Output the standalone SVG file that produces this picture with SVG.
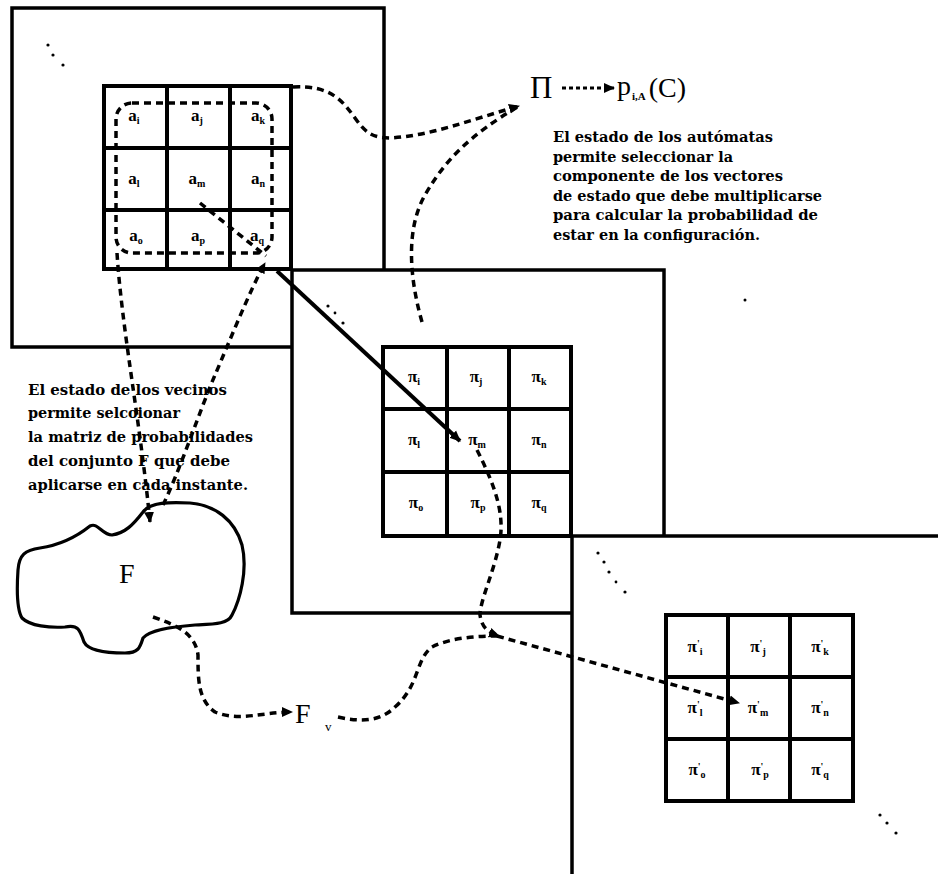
<svg xmlns="http://www.w3.org/2000/svg" width="938" height="874" viewBox="0 0 938 874">
<defs>
<marker id="ah" markerUnits="userSpaceOnUse" markerWidth="12" markerHeight="12" refX="10" refY="5" orient="auto" viewBox="0 0 12 10">
<path d="M0,0 L11,5 L0,10 Z" fill="#000"/>
</marker>
<style>
.frame{fill:#fff;stroke:#000;stroke-width:3.5}
.grid{fill:#fff;stroke:#000;stroke-width:4}
.gl{stroke:#000;stroke-width:4}
.dash{fill:none;stroke:#000;stroke-width:3.5;stroke-dasharray:7 5}
.dash2{fill:none;stroke:#000;stroke-width:3;stroke-dasharray:4 3}
.solid{fill:none;stroke:#000;stroke-width:4}
.t{font-family:"DejaVu Serif","Liberation Serif",serif;font-weight:bold;font-size:14.5px;fill:#000}
.lbl{font-family:"Liberation Serif",serif;font-weight:bold;font-size:17px;fill:#000;text-anchor:middle}
.sub{font-size:10px}
.big{font-family:"Liberation Serif",serif;font-size:28px;fill:#000}
.dot{fill:#000}
</style>
</defs>
<rect width="938" height="874" fill="#fff"/>

<g id="frame1"><rect class="frame" x="12" y="8" width="372" height="339"/></g>
<g id="frame2"><rect class="frame" x="292" y="270" width="372" height="343"/></g>
<g id="frame3"><rect class="frame" x="572" y="536" width="380" height="350"/></g>

<g id="ellipsis">
<circle class="dot" cx="48" cy="45" r="1.6"/><circle class="dot" cx="53" cy="55" r="1.6"/><circle class="dot" cx="63" cy="65" r="1.6"/>
<circle class="dot" cx="328" cy="306" r="1.6"/><circle class="dot" cx="335" cy="313" r="1.4"/><circle class="dot" cx="343" cy="323" r="1.6"/>
<circle class="dot" cx="598" cy="553" r="1.6"/><circle class="dot" cx="604" cy="562" r="1.6"/><circle class="dot" cx="609" cy="572" r="1.6"/><circle class="dot" cx="616" cy="582" r="1.4"/><circle class="dot" cx="625" cy="592" r="1.6"/>
<circle class="dot" cx="880" cy="815" r="1.6"/><circle class="dot" cx="887" cy="823" r="1.6"/><circle class="dot" cx="896" cy="833" r="1.6"/>
<circle class="dot" cx="745" cy="300" r="1.5"/>
</g>

<g id="gridA">
<rect class="grid" x="104" y="86" width="187" height="183"/>
<line class="gl" x1="167" y1="86" x2="167" y2="269"/><line class="gl" x1="230" y1="86" x2="230" y2="269"/>
<line class="gl" x1="104" y1="148" x2="291" y2="148"/><line class="gl" x1="104" y1="210" x2="291" y2="210"/>
<text class="lbl" x="134" y="121">a<tspan class="sub" dy="3">i</tspan></text>
<text class="lbl" x="197" y="121">a<tspan class="sub" dy="3">j</tspan></text>
<text class="lbl" x="258" y="121">a<tspan class="sub" dy="3">k</tspan></text>
<text class="lbl" x="134" y="184">a<tspan class="sub" dy="3">l</tspan></text>
<text class="lbl" x="197" y="184">a<tspan class="sub" dy="3">m</tspan></text>
<text class="lbl" x="258" y="184">a<tspan class="sub" dy="3">n</tspan></text>
<text class="lbl" x="136" y="241">a<tspan class="sub" dy="3">o</tspan></text>
<text class="lbl" x="198" y="241">a<tspan class="sub" dy="3">p</tspan></text>
<text class="lbl" x="257" y="241">a<tspan class="sub" dy="3">q</tspan></text>
</g>

<g id="gridPi">
<rect class="grid" x="383" y="347" width="188" height="189"/>
<line class="gl" x1="447" y1="347" x2="447" y2="536"/><line class="gl" x1="509" y1="347" x2="509" y2="536"/>
<line class="gl" x1="383" y1="409" x2="571" y2="409"/><line class="gl" x1="383" y1="472" x2="571" y2="472"/>
<text class="lbl" x="414" y="382">π<tspan class="sub" dy="3">i</tspan></text>
<text class="lbl" x="476" y="382">π<tspan class="sub" dy="3">j</tspan></text>
<text class="lbl" x="539" y="382">π<tspan class="sub" dy="3">k</tspan></text>
<text class="lbl" x="414" y="445">π<tspan class="sub" dy="3">l</tspan></text>
<text class="lbl" x="477" y="445">π<tspan class="sub" dy="3">m</tspan></text>
<text class="lbl" x="539" y="445">π<tspan class="sub" dy="3">n</tspan></text>
<text class="lbl" x="416" y="508">π<tspan class="sub" dy="3">o</tspan></text>
<text class="lbl" x="478" y="508">π<tspan class="sub" dy="3">p</tspan></text>
<text class="lbl" x="539" y="508">π<tspan class="sub" dy="3">q</tspan></text>
</g>

<g id="gridPiPrime">
<rect class="grid" x="666" y="615" width="187" height="186"/>
<line class="gl" x1="728" y1="615" x2="728" y2="801"/><line class="gl" x1="790" y1="615" x2="790" y2="801"/>
<line class="gl" x1="666" y1="677" x2="853" y2="677"/><line class="gl" x1="666" y1="739" x2="853" y2="739"/>
<text class="lbl" x="695" y="652">π<tspan class="sub" dy="-5">'</tspan><tspan class="sub" dy="8">i</tspan></text>
<text class="lbl" x="758" y="652">π<tspan class="sub" dy="-5">'</tspan><tspan class="sub" dy="8">j</tspan></text>
<text class="lbl" x="820" y="652">π<tspan class="sub" dy="-5">'</tspan><tspan class="sub" dy="8">k</tspan></text>
<text class="lbl" x="695" y="713">π<tspan class="sub" dy="-5">'</tspan><tspan class="sub" dy="8">l</tspan></text>
<text class="lbl" x="758" y="713">π<tspan class="sub" dy="-5">'</tspan><tspan class="sub" dy="8">m</tspan></text>
<text class="lbl" x="820" y="713">π<tspan class="sub" dy="-5">'</tspan><tspan class="sub" dy="8">n</tspan></text>
<text class="lbl" x="697" y="775">π<tspan class="sub" dy="-5">'</tspan><tspan class="sub" dy="8">o</tspan></text>
<text class="lbl" x="760" y="775">π<tspan class="sub" dy="-5">'</tspan><tspan class="sub" dy="8">p</tspan></text>
<text class="lbl" x="820" y="775">π<tspan class="sub" dy="-5">'</tspan><tspan class="sub" dy="8">q</tspan></text>
</g>

<g id="setF">
<path fill="#fff" stroke="#000" stroke-width="3.2" stroke-linejoin="round" d="M143,512 C150,502 170,502 190,503 C215,505 235,520 242,545 C248,570 240,600 232,615 C228,624 215,624 195,625 C170,627 150,630 143,638 C140,648 138,653 125,653 C105,653 88,650 84,642 C80,630 78,624 65,627 C50,628 30,626 22,618 C16,608 17,585 18,570 C19,555 25,550 40,548 C60,545 75,538 90,526 C98,522 102,535 112,535 C125,533 133,525 143,512 Z"/>
<text class="big" x="119" y="583">F</text>
</g>

<g id="Fv">
<text class="big" x="295" y="723">F</text>
<text class="big" x="325" y="731" style="font-size:13px">v</text>
</g>

<g id="Pi">
<text class="big" x="530" y="98" style="font-size:31px">Π</text>
</g>

<g id="prob">
<text class="big" x="617" y="95">p<tspan style="font-size:11px;font-weight:bold" dy="5" dx="1">i,A</tspan><tspan dy="-3" dx="3">(C)</tspan></text>
</g>

<g id="noteRight">
<text class="t" x="553" y="142" textLength="220" lengthAdjust="spacingAndGlyphs">El estado de los autómatas</text>
<text class="t" x="553" y="161.5" textLength="180" lengthAdjust="spacingAndGlyphs">permite seleccionar la</text>
<text class="t" x="553" y="181" textLength="230" lengthAdjust="spacingAndGlyphs">componente de los vectores</text>
<text class="t" x="553" y="200.5" textLength="269" lengthAdjust="spacingAndGlyphs">de estado que debe multiplicarse</text>
<text class="t" x="553" y="220" textLength="265" lengthAdjust="spacingAndGlyphs">para calcular la probabilidad de</text>
<text class="t" x="553" y="239.5" textLength="207" lengthAdjust="spacingAndGlyphs">estar en la configuración.</text>
</g>

<g id="noteLeft">
<text class="t" x="28" y="395" textLength="199" lengthAdjust="spacingAndGlyphs">El estado de los vecinos</text>
<text class="t" x="28" y="418" textLength="152" lengthAdjust="spacingAndGlyphs">permite selcoionar</text>
<text class="t" x="28" y="442" textLength="225" lengthAdjust="spacingAndGlyphs">la matriz de probabilidades</text>
<text class="t" x="28" y="466" textLength="202" lengthAdjust="spacingAndGlyphs">del conjunto F que debe</text>
<text class="t" x="28" y="490" textLength="220" lengthAdjust="spacingAndGlyphs">aplicarse en cada instante.</text>
</g>

<g id="connectors">
<rect class="dash" x="116" y="103" width="156" height="150" rx="16"/>
<path class="dash" d="M200,203 L266,256"/>
<path class="solid" d="M277,271 L460,441" marker-end="url(#ah)"/>
<path class="dash" d="M163,505 C180,470 200,410 215,375 C228,345 250,290 265,263" marker-end="url(#ah)"/>
<path class="dash" d="M117,253 C122,330 140,420 150,522" marker-end="url(#ah)"/>
<path class="dash" d="M293,87 C330,85 342,100 355,118 C365,132 372,138 390,138 C430,136 470,120 519,106" marker-end="url(#ah)"/>
<path class="dash" d="M422,322 C410,280 405,230 425,195 C445,160 470,135 519,106"/>
<path class="dash2" d="M562,88 L614,88" marker-end="url(#ah)"/>
<path class="dash" d="M153,617 C175,625 195,632 198,655 C198,680 198,700 215,712 C240,722 262,712 292,712" marker-end="url(#ah)"/>
<path class="dash" d="M338,717 C360,722 380,722 395,707 C420,685 415,660 432,647 C450,638 475,636 497,636"/>
<path class="dash" d="M477,450 C492,480 505,510 500,540 C495,570 480,600 480,615 C482,628 488,632 499,636" marker-end="url(#ah)"/>
<path class="dash" d="M497,636 L739,703" marker-end="url(#ah)"/>
</g>
</svg>
